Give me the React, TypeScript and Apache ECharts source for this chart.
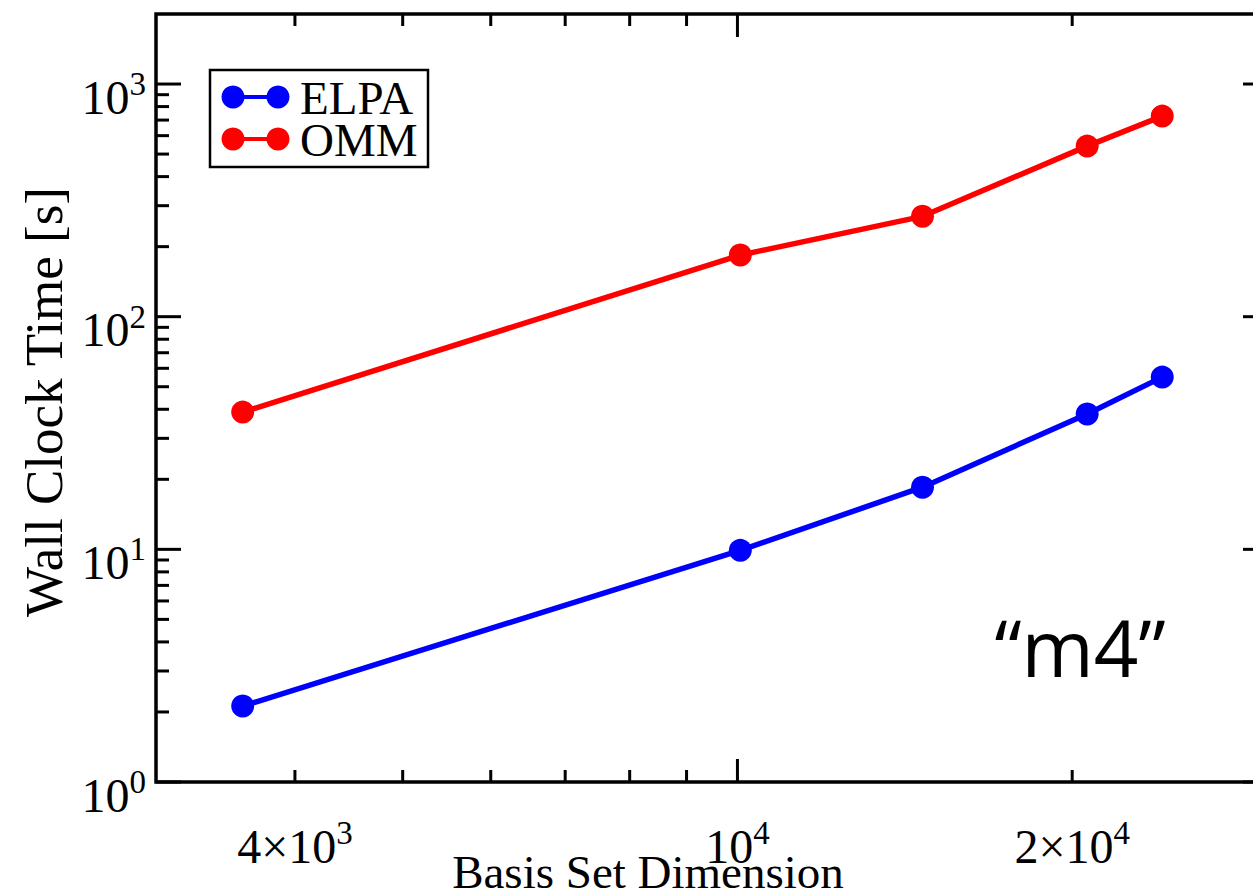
import React, { useEffect, useRef } from 'react';
import * as echarts from 'echarts';

// ---- data ----
const basisDims = [3590, 10060, 14670, 20630, 24100];
const elpaTimes = [2.12, 9.9, 18.5, 38.2, 55.0];
const ommTimes = [38.9, 184, 270, 541, 728];
const seriesNames = ['ELPA', 'OMM'];
const seriesColors = ['#0000ff', '#ff0000'];

const X_MIN = 3000;
const X_MAX = 30000;
const Y_MIN = 1;
const Y_MAX = 2000;

const yMajorTicks = [1, 10, 100, 1000];
const yMinorTicks = [2, 3, 4, 5, 6, 7, 8, 9, 20, 30, 40, 50, 60, 70, 80, 90, 200, 300, 400, 500, 600, 700, 800, 900];
const xMajorTicks = [10000];
const xMinorTicks = [4000, 5000, 6000, 7000, 8000, 9000, 20000];
const xLabelValues = [4000, 10000, 20000];
const xLabelMantissa = ['4×10', '10', '2×10'];
const xLabelExponent = ['3', '4', '4'];

const SERIF = '"Liberation Serif", "Times New Roman", serif';

const labelRich = {
  b: { fontSize: 48, fontFamily: SERIF, color: '#000', lineHeight: 46, verticalAlign: 'bottom' },
  s: { fontSize: 33, fontFamily: SERIF, color: '#000', lineHeight: 74, verticalAlign: 'middle' },
};

export default function App() {
  const ref = useRef<HTMLDivElement>(null);

  useEffect(() => {
    if (!ref.current) return;
    const chart = echarts.init(ref.current, null, { renderer: 'svg' });

    const yTickData = [
      ...yMajorTicks.map((v) => [X_MIN, v, 1]),
      ...yMinorTicks.map((v) => [X_MIN, v, 0]),
    ];
    const xTickData = [
      ...xMajorTicks.map((v) => [v, Y_MIN, 1]),
      ...xMinorTicks.map((v) => [v, Y_MIN, 0]),
    ];

    const option: any = {
      animation: false,
      backgroundColor: '#fff',
      grid: {
        left: 156,
        top: 14,
        width: 1112,
        height: 768,
        show: true,
        borderColor: '#000',
        borderWidth: 3.5,
        backgroundColor: 'transparent',
        containLabel: false,
        outerBoundsMode: 'none',
      },
      xAxis: {
        type: 'log',
        logBase: 10,
        min: X_MIN,
        max: X_MAX,
        axisLine: { show: false },
        axisTick: { show: false },
        axisLabel: { show: false },
        splitLine: { show: false },
        minorTick: { show: false },
      },
      yAxis: {
        type: 'log',
        logBase: 10,
        min: Y_MIN,
        max: Y_MAX,
        axisLine: { show: false },
        axisTick: { show: false },
        splitLine: { show: false },
        minorTick: { show: false },
        axisLabel: {
          margin: 10,
          formatter: (value: number) => {
            const l = Math.log10(value);
            if (Math.abs(l - Math.round(l)) > 1e-6) return '';
            return `{b|10}{s|${Math.round(l)}}`;
          },
          rich: labelRich,
        },
      },
      series: [
        {
          name: seriesNames[0],
          type: 'line',
          data: basisDims.map((x, i) => [x, elpaTimes[i]]),
          color: seriesColors[0],
          lineStyle: { width: 5.5, color: seriesColors[0] },
          itemStyle: { color: seriesColors[0] },
          symbol: 'circle',
          symbolSize: 23,
          z: 3,
        },
        {
          name: seriesNames[1],
          type: 'line',
          data: basisDims.map((x, i) => [x, ommTimes[i]]),
          color: seriesColors[1],
          lineStyle: { width: 5.5, color: seriesColors[1] },
          itemStyle: { color: seriesColors[1] },
          symbol: 'circle',
          symbolSize: 23,
          z: 3,
        },
        {
          type: 'custom',
          silent: true,
          z: 5,
          data: yTickData,
          renderItem: (params: any, api: any) => {
            const cs = params.coordSys;
            const p = api.coord([api.value(0), api.value(1)]);
            const len = api.value(2) ? 25 : 13;
            const st = { stroke: '#000', lineWidth: 3 };
            return {
              type: 'group',
              children: [
                { type: 'line', shape: { x1: cs.x, y1: p[1], x2: cs.x + len, y2: p[1] }, style: st },
                { type: 'line', shape: { x1: cs.x + cs.width, y1: p[1], x2: cs.x + cs.width - len, y2: p[1] }, style: st },
              ],
            };
          },
        },
        {
          type: 'custom',
          silent: true,
          z: 5,
          data: xTickData,
          renderItem: (params: any, api: any) => {
            const cs = params.coordSys;
            const p = api.coord([api.value(0), api.value(1)]);
            const len = api.value(2) ? 23 : 12;
            const st = { stroke: '#000', lineWidth: 3 };
            return {
              type: 'group',
              children: [
                { type: 'line', shape: { x1: p[0], y1: cs.y + cs.height, x2: p[0], y2: cs.y + cs.height - len }, style: st },
                { type: 'line', shape: { x1: p[0], y1: cs.y, x2: p[0], y2: cs.y + len }, style: st },
              ],
            };
          },
        },
        {
          type: 'custom',
          silent: true,
          z: 5,
          data: xLabelValues.map((v) => [v, Y_MIN]),
          renderItem: (params: any, api: any) => {
            const cs = params.coordSys;
            const p = api.coord([api.value(0), api.value(1)]);
            const i = params.dataIndex;
            return {
              type: 'text',
              x: p[0],
              y: cs.y + cs.height + 14,
              style: {
                text: `{b|${xLabelMantissa[i]}}{s|${xLabelExponent[i]}}`,
                rich: labelRich,
                align: 'center',
                verticalAlign: 'top',
              },
            };
          },
        },
      ],
      graphic: [
        {
          type: 'text',
          x: 44,
          y: 402,
          rotation: Math.PI / 2,
          style: {
            text: 'Wall Clock Time [s]',
            fontSize: 53,
            fontFamily: SERIF,
            fill: '#000',
            align: 'center',
            verticalAlign: 'middle',
          },
        },
        {
          type: 'text',
          x: 648,
          y: 872,
          style: {
            text: 'Basis Set Dimension',
            fontSize: 47,
            lineHeight: 44,
            fontFamily: SERIF,
            fill: '#000',
            align: 'center',
            verticalAlign: 'middle',
          },
        },
        {
          type: 'text',
          x: 1080,
          y: 647,
          style: {
            text: '\u201Cm4\u201D',
            fontSize: 78,
            fontFamily: '"Open Sans", "Noto Sans", sans-serif',
            fill: '#000',
            align: 'center',
            verticalAlign: 'middle',
          },
        },
        {
          type: 'group',
          x: 210,
          y: 70,
          children: [
            {
              type: 'rect',
              shape: { x: 0, y: 0, width: 218, height: 97 },
              style: { fill: '#fff', stroke: '#000', lineWidth: 2.5 },
            },
            ...seriesNames.flatMap((name, i) => {
              const cy = 27 + i * 42;
              return [
                { type: 'line', shape: { x1: 23, y1: cy, x2: 68, y2: cy }, style: { stroke: seriesColors[i], lineWidth: 4 } },
                { type: 'circle', shape: { cx: 23, cy, r: 11.5 }, style: { fill: seriesColors[i] } },
                { type: 'circle', shape: { cx: 68, cy, r: 11.5 }, style: { fill: seriesColors[i] } },
                {
                  type: 'text',
                  x: 90,
                  y: cy + 1,
                  style: { text: name, fontSize: 47, lineHeight: 38, fontFamily: SERIF, fill: '#000', align: 'left', verticalAlign: 'middle' },
                },
              ];
            }),
          ],
        },
      ],
    };

    chart.setOption(option);
    return () => chart.dispose();
  }, []);

  return (
    <div
      ref={ref}
      style={{ position: 'absolute', left: 0, top: 0, width: 1253, height: 896, overflow: 'hidden' }}
    />
  );
}
